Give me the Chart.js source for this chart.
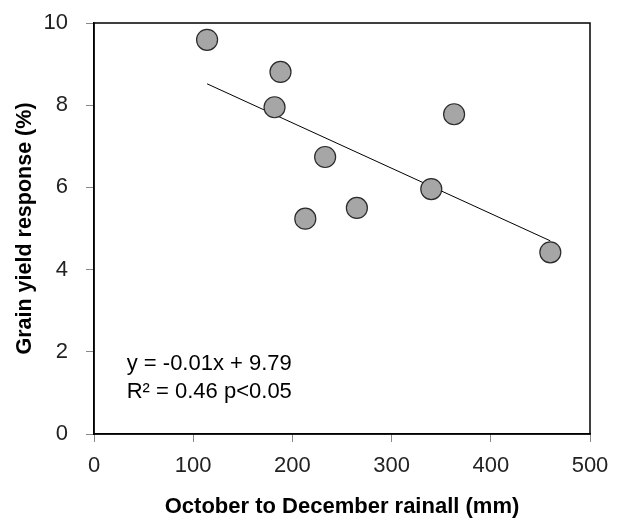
<!DOCTYPE html>
<html>
<head>
<meta charset="utf-8">
<script src="https://cdn.jsdelivr.net/npm/chart.js@4/dist/chart.umd.min.js"></script>
<style>
  html, body { margin: 0; padding: 0; background: #fff; }
  #wrap { width: 617px; height: 518px; }
</style>
</head>
<body>
<div id="wrap"><canvas id="c" width="617" height="518"></canvas></div>
<script>
// Data
const rainfall = [114, 188, 182, 363, 233, 340, 265, 213, 460];
const yieldResponse = [9.59, 8.81, 7.95, 7.78, 6.74, 5.96, 5.50, 5.24, 4.42];
const trendX = [114, 460];
const trendY = [8.52, 4.70];
const xTicks = [0, 100, 200, 300, 400, 500];
const yTicks = [0, 2, 4, 6, 8, 10];
const equationLines = ['y = -0.01x + 9.79', 'R\u00B2 = 0.46 p<0.05'];
const xTitle = 'October to December rainall (mm)';
const yTitle = 'Grain yield response (%)';

const FONT = '"Liberation Sans", Arial, sans-serif';

const frameAndText = {
  id: 'frameAndText',
  beforeDatasetsDraw(chart) {
    const {ctx, chartArea: a} = chart;
    ctx.save();
    ctx.strokeStyle = '#000';
    ctx.lineWidth = 1.5;
    ctx.strokeRect(a.left, a.top, a.right - a.left, a.bottom - a.top);
    ctx.restore();
  },
  afterDatasetsDraw(chart) {
    const {ctx} = chart;
    const xs = chart.scales.x, ys = chart.scales.y;
    ctx.save();
    ctx.fillStyle = '#000';
    ctx.font = '22px ' + FONT;
    ctx.textBaseline = 'middle';
    ctx.textAlign = 'left';
    const x0 = xs.getPixelForValue(33);
    ctx.fillText(equationLines[0], x0, ys.getPixelForValue(1.70));
    ctx.fillText(equationLines[1], x0, ys.getPixelForValue(1.03));
    ctx.restore();
  }
};

new Chart(document.getElementById('c'), {
  type: 'scatter',
  data: {
    datasets: [
      {
        type: 'line',
        data: trendX.map((x, i) => ({x, y: trendY[i]})),
        borderColor: '#000',
        borderWidth: 1,
        pointRadius: 0,
        fill: false,
        order: 2
      },
      {
        data: rainfall.map((x, i) => ({x, y: yieldResponse[i]})),
        backgroundColor: '#a6a6a6',
        borderColor: '#2a2a2a',
        borderWidth: 1.2,
        pointRadius: 10.5,
        pointHoverRadius: 10.5,
        order: 1
      }
    ]
  },
  options: {
    responsive: false,
    animation: false,
    events: [],
    layout: { padding: { top: 23, right: 27, left: 0, bottom: 0 } },
    plugins: { legend: { display: false }, tooltip: { enabled: false } },
    scales: {
      x: {
        type: 'linear',
        min: 0, max: 500,
        afterBuildTicks(s) { s.ticks = xTicks.map(v => ({value: v})); },
        afterFit(s) { s.height = 84; s.paddingLeft = 0; s.paddingRight = 0; },
        grid: { drawOnChartArea: false, drawTicks: true, tickLength: 8, color: '#888', lineWidth: 1 },
        border: { display: true, color: '#000', width: 1.5 },
        ticks: { color: '#222', font: { family: FONT, size: 22 }, padding: 11, maxRotation: 0 },
        title: { display: true, text: xTitle, color: '#000', font: { family: FONT, size: 22, weight: 'bold', lineHeight: 1.0 }, padding: { top: 0, bottom: 0 } }
      },
      y: {
        type: 'linear',
        min: 0, max: 10,
        afterBuildTicks(s) { s.ticks = yTicks.map(v => ({value: v})); },
        afterFit(s) { s.width = 94; s.paddingTop = 0; s.paddingBottom = 0; },
        grid: { drawOnChartArea: false, drawTicks: true, tickLength: 8, color: '#888', lineWidth: 1 },
        border: { display: true, color: '#000', width: 1.5 },
        ticks: { color: '#222', font: { family: FONT, size: 22 }, padding: 18 },
        title: { display: true, text: yTitle, color: '#000', font: { family: FONT, size: 21.5, weight: 'bold', lineHeight: 1.2 }, padding: { top: 12, bottom: 0 } }
      }
    }
  },
  plugins: [frameAndText]
});
</script>
</body>
</html>
